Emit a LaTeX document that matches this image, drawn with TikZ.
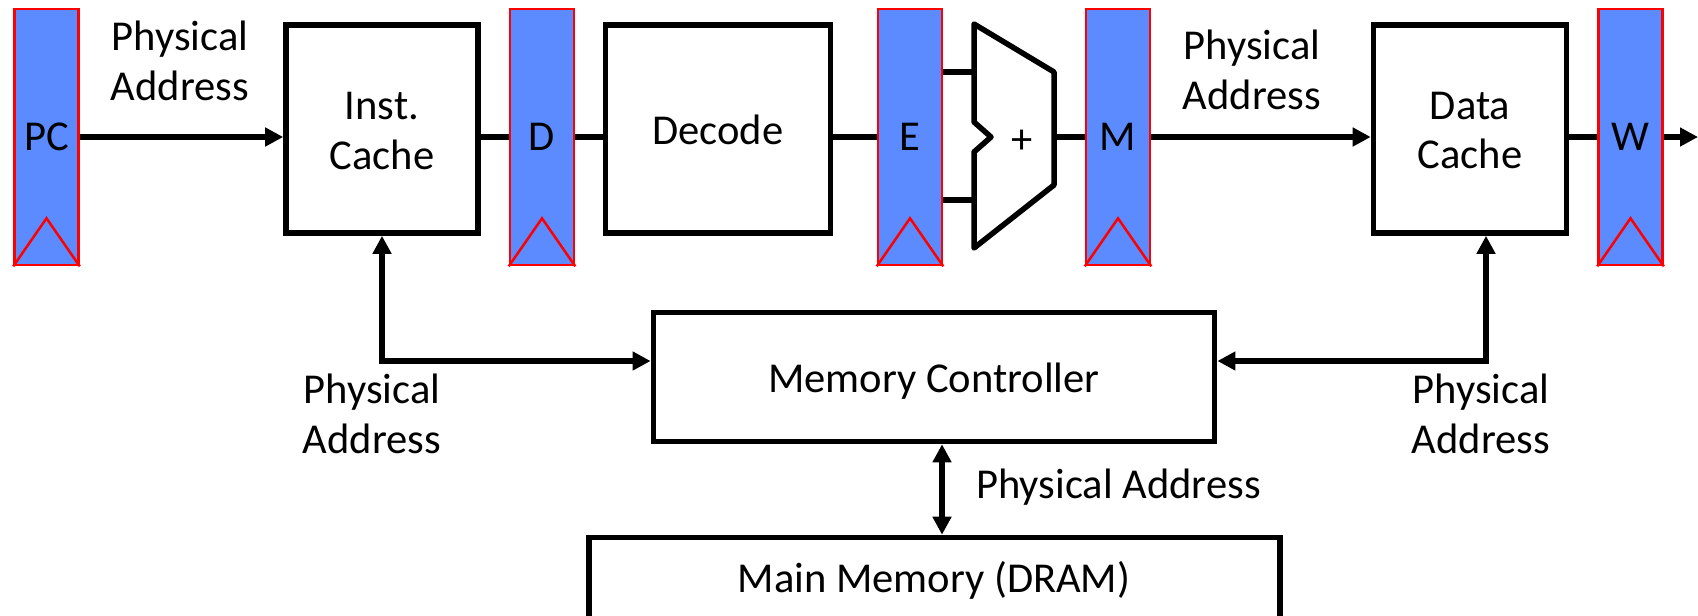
\documentclass[tikz,border=0pt]{standalone}
\usepackage{fontspec}
\setmainfont{Carlito}
\usepackage{xcolor}
\usetikzlibrary{arrows.meta}
\definecolor{regblue}{HTML}{5B8BFF}
\tikzset{
  reg/.style={draw=red, fill=regblue, line width=0.025cm, minimum width=0.64cm, minimum height=2.56cm, inner sep=0pt},
  clk/.style={draw=red, line width=0.025cm},
  box/.style={draw=black, fill=white, line width=0.055cm, inner sep=0pt, align=center},
  wire/.style={draw=black, line width=0.055cm},
  txt/.style={align=center, inner sep=0pt}
}
\begin{document}
\begin{tikzpicture}[x=0.01cm, y=-0.01cm, >={Triangle[length=0.18cm,width=0.18cm]}, font=\fontsize{12.1}{14.2}\selectfont]
    \clip (0,0) rectangle (1698,615);
    \node [reg] (pc) at (46.5,137) {PC};
    \node [reg] (d) at (542,137) {D};
    \node [reg] (e) at (910,137) {E};
    \node [reg] (m) at (1118,137) {M};
    \node [reg] (w) at (1630.5,137) {W};
    \foreach \r in {pc,d,e,m,w}
      \draw [clk] (\r.south west) -- ([yshift=0.48cm]\r.south) -- (\r.south east);
    \node [box, minimum width=1.92cm, minimum height=2.08cm] (icache) at (382,129) {};
    \node [txt] (icachetext) at (382,131) {Inst.\\Cache};
    \node [box, minimum width=2.25cm, minimum height=2.08cm] (decode) at (718,129) {};
    \node [txt] (decodetext) at (718,130) {Decode};
    \node [box, minimum width=1.93cm, minimum height=2.08cm] (dcache) at (1470,129) {};
    \node [txt] (dcachetext) at (1470,130.5) {Data\\Cache};
    \node [box, minimum width=5.61cm, minimum height=1.29cm] (memctrl) at (934,377) {};
    \node [txt] (memctrltext) at (934,381.5) {Memory Controller};
    \node [box, minimum width=6.91cm, minimum height=1.00cm] (mainmem) at (934.5,587.5) {};
    \node [txt] (mainmemtext) at (934,580) {Main Memory (DRAM)};
    % adder
    \coordinate (a1) at (974,24);
    \coordinate (a2) at (1054,72);
    \coordinate (a3) at (1054,185);
    \coordinate (a4) at (974,248);
    \coordinate (a5) at (974,152);
    \coordinate (a6) at (991,137);
    \coordinate (a7) at (974,122);
    \draw [box, line join=round] (a1) -- (a2) -- (a3) -- (a4) -- (a5) -- (a6) -- (a7) -- cycle;
    \node [txt] (plus) at (1022,142) {+};
    \coordinate (outend) at (1698,137);
    \coordinate (ileft) at (382,361);
    \coordinate (dright) at (1486,361);
    % wires
    \draw [wire, ->] (pc.east) to (icache.west |- pc.east);
    \draw [wire] (icache.east |- d.west) to (d.west);
    \draw [wire] (d.east) to (decode.west |- d.east);
    \draw [wire] (decode.east |- e.west) to (e.west);
    \draw [wire] (e.east |- a2) to (a2 -| a1);
    \draw [wire] (e.east |- 0,200) to (a1 |- 0,200);
    \draw [wire] (m.west -| a2) to (m.west);
    \draw [wire, ->] (m.east) to (dcache.west |- m.east);
    \draw [wire] (dcache.east |- w.west) to (w.west);
    \draw [wire, ->] (w.east) to (outend);
    \draw [wire, <->] (icache.south) -- (ileft) -- (memctrl.west |- ileft);
    \draw [wire, <->] (dcache.south -| dright) -- (dright) -- (memctrl.east |- dright);
    \draw [wire, <->] (memctrl.south -| 942,0) to (mainmem.north -| 942,0);
    % labels
    \node [txt] (label1) at (180,60.5) {Physical\\Address};
    \node [txt] (label2) at (1252,70) {Physical\\Address};
    \node [txt] (label3) at (372,414) {Physical\\Address};
    \node [txt] (label4) at (1481,414) {Physical\\Address};
    \node [txt] (label5) at (1118.5,487.5) {Physical Address};
\end{tikzpicture}
\end{document}
